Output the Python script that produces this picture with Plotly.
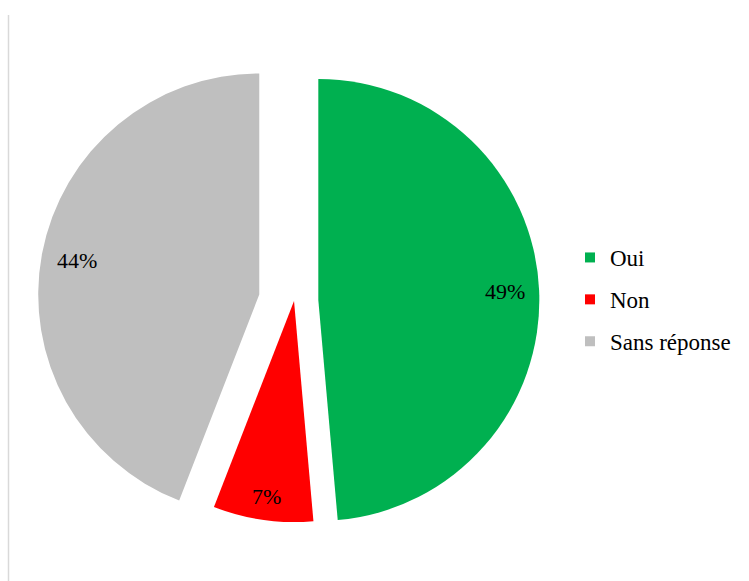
import math
import plotly.graph_objects as go

labels = ["Oui", "Non", "Sans réponse"]
values = [48.6, 7.3, 44.1]
colors = ["#00B050", "#FF0000", "#BFBFBF"]
pulls = [0.11, 0.0, 0.16]

W, H = 749, 581
dom_x = [0.0454, 0.7397]
dom_y = [0.0406, 0.9232]
FONT = "Liberation Serif, Times New Roman, serif"
LABEL_SIZE = 22

fig = go.Figure()
fig.add_trace(go.Pie(
    labels=labels, values=values, sort=False, direction="clockwise", rotation=0,
    marker=dict(colors=colors, line=dict(width=0)),
    pull=pulls, textinfo="none", hoverinfo="label+percent",
    showlegend=False, domain=dict(x=dom_x, y=dom_y),
))

for i, (lab, col) in enumerate(zip(labels, colors)):
    fig.add_trace(go.Scatter(
        x=[None], y=[None], mode="markers", name=lab, legendgroup=f"g{i}",
        marker=dict(symbol="square", size=10, color=col),
    ))

# pie geometry as plotly computes it; labels placed just inside the outer arc
bw = W * (dom_x[1] - dom_x[0]); bh = H * (dom_y[1] - dom_y[0])
r = min(bw, bh) / 2 / (1 + max(pulls))
cx = W * (dom_x[0] + dom_x[1]) / 2
cy = H * (1 - (dom_y[0] + dom_y[1]) / 2)
total = sum(values)
cum = 0
for v, p in zip(values, pulls):
    mid = (cum + v / 2) / total * 2 * math.pi
    cum += v
    dx, dy = math.sin(mid), -math.cos(mid)
    txt = f"{round(v / total * 100)}%"
    hw = 0.5 * (0.5 * (len(txt) - 1) + 0.833) * LABEL_SIZE
    hh = 8
    dist = p * r + r - (abs(dx) * hw + abs(dy) * hh) - 14
    px_, py_ = cx + dist * dx, cy + dist * dy
    fig.add_annotation(
        x=px_ / W, y=1 - py_ / H, xref="paper", yref="paper",
        xanchor="center", yanchor="middle",
        text=txt, showarrow=False,
        font=dict(family=FONT, size=LABEL_SIZE, color="black"),
    )

fig.add_shape(type="line", xref="paper", yref="paper",
              x0=8.5 / W, x1=8.5 / W, y0=0, y1=1 - 15 / H,
              line=dict(color="#D9D9D9", width=1.5))

fig.update_layout(
    width=W, height=H, margin=dict(l=0, r=0, t=0, b=0),
    paper_bgcolor="white", plot_bgcolor="white",
    xaxis=dict(visible=False), yaxis=dict(visible=False),
    legend=dict(x=570 / W, y=1 - 236 / H, xanchor="left", yanchor="top",
                tracegroupgap=9, itemwidth=30,
                font=dict(family=FONT, size=23, color="black")),
    font=dict(family=FONT),
)
fig.write_html("out.html", config={"displayModeBar": False},
               post_script="document.body.style.margin='0';document.body.style.overflow='hidden';")
